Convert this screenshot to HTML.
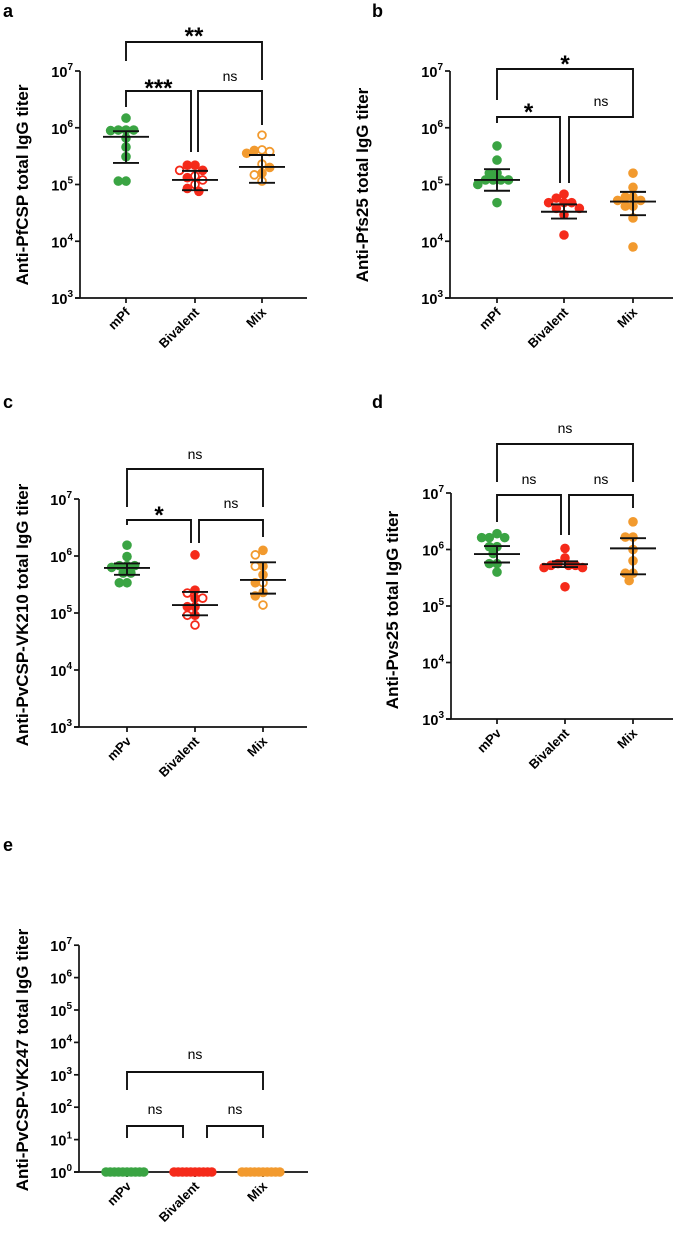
<!DOCTYPE html>
<html><head><meta charset="utf-8">
<style>
html,body{margin:0;padding:0;background:#fff;}
svg{display:block;font-family:"Liberation Sans",Arial,sans-serif;}
.pl{font-weight:bold;font-size:18px;}
.tl{font-weight:bold;font-size:14.5px;}
.yt{font-weight:bold;font-size:17px;}
.xl{font-weight:bold;font-size:13px;}
.sig{font-size:14px;}
.star{font-weight:bold;font-size:24px;}
</style></head>
<body>
<svg id="fig" width="681" height="1249" viewBox="0 0 681 1249"></svg>
<script>
// ---- data (log10 titer) ----
const groupsPf = ["mPf","Bivalent","Mix"];
const groupsPv = ["mPv","Bivalent","Mix"];
const colors = ["#3aa443","#f52a1a","#f29a2e"];

const aGreen = [6.17,5.96,5.96,5.96,5.95,5.82,5.66,5.49,5.06,5.06];
const aRed = [5.34,5.34,5.25,5.25,5.15,5.12,5.08,5.0,4.93,4.88];
const aRedOpen = [0,0,0,1,1,0,1,1,0,0];
const aOrange = [5.87,5.61,5.6,5.58,5.55,5.36,5.2,5.17,5.06,5.3];
const aOrangeOpen = [1,1,0,1,0,1,0,1,1,0];
const aMean = [5.84,5.08,5.31];
const aHi = [5.94,5.24,5.52];
const aLo = [5.38,4.9,5.03];

const bGreen = [5.68,5.43,5.2,5.2,5.08,5.08,5.08,5.08,5.0,4.68];
const bRed = [4.83,4.76,4.68,4.68,4.68,4.58,4.58,4.47,4.11];
const bOrange = [5.2,4.95,4.78,4.78,4.72,4.72,4.62,4.62,4.41,3.9];
const bMean = [5.08,4.52,4.7];
const bHi = [5.27,4.65,4.87];
const bLo = [4.89,4.4,4.46];

const cGreen = [6.19,5.99,5.83,5.83,5.83,5.8,5.7,5.7,5.53,5.53];
const cRed = [6.02,5.4,5.35,5.26,5.26,5.11,5.11,4.96,4.96,4.79];
const cRedOpen = [0,0,1,0,1,0,0,0,1,1];
const cOrange = [6.1,6.02,5.82,5.82,5.67,5.53,5.53,5.36,5.3,5.14];
const cOrangeOpen = [0,1,0,1,0,1,0,0,0,1];
const cMean = [5.79,5.14,5.58];
const cHi = [5.87,5.37,5.89];
const cLo = [5.67,4.96,5.34];

const dGreen = [6.28,6.21,6.21,6.21,6.05,6.05,5.93,5.75,5.75,5.6];
const dRed = [6.02,5.85,5.75,5.72,5.72,5.72,5.68,5.68,5.34];
const dOrange = [6.49,6.22,6.22,6.0,5.8,5.58,5.58,5.45];
const dMean = [5.92,5.74,6.02];
const dHi = [6.06,5.79,6.2];
const dLo = [5.77,5.69,5.56];

const eGreen = [0,0,0,0,0,0,0,0,0,0];
const eRed = [0,0,0,0,0,0,0,0,0,0];
const eOrange = [0,0,0,0,0,0,0,0,0,0];

const NS = "http://www.w3.org/2000/svg";
const svg = document.getElementById("fig");
function mk(tag, attrs, parent, text){
  const e = document.createElementNS(NS, tag);
  for (const k in attrs) e.setAttribute(k, attrs[k]);
  if (text !== undefined) e.textContent = text;
  (parent||svg).appendChild(e);
  return e;
}

function swarm(vals, yfn, r){
  const placed = []; const offs = [];
  vals.forEach(v=>{
    const y = yfn(v); let chosen = 0;
    for (let k=0;k<60;k++){
      const o = (k%2===0?1:-1)*Math.ceil(k/2)*r*0.8;
      if (placed.every(p=>Math.hypot(p[0]-o,p[1]-y) >= r*1.6)){ chosen=o; break; }
    }
    placed.push([chosen,y]); offs.push(chosen);
  });
  const mx = Math.max(...offs.map(Math.abs));
  const lim = 21;
  if (mx > lim) return offs.map(o=>o*lim/mx);
  return offs;
}

function panel(cfg){
  const g = mk("g",{});
  
  
  const yOf = v => cfg.base - (v - cfg.minDec) * cfg.dec;
  const lab = mk("text",{x:cfg.lx,y:cfg.ly,class:"pl"},g,cfg.letter);
  
  
  const ya = mk("line",{x1:cfg.ax,y1:yOf(cfg.maxDec),x2:cfg.ax,y2:cfg.base,stroke:"#111","stroke-width":1.7},g);
  
  
  const xa = mk("line",{x1:cfg.ax-5,y1:cfg.base,x2:cfg.axEnd,y2:cfg.base,stroke:"#111","stroke-width":1.7},g);
  
  
  for (let d=cfg.minDec; d<=cfg.maxDec; d++){
    const y = yOf(d);
    mk("line",{x1:cfg.ax-5,y1:y,x2:cfg.ax,y2:y,stroke:"#111","stroke-width":1.7},g);
    const t = mk("text",{x:cfg.ax-7,y:y+6,"text-anchor":"end",class:"tl"},g);
    
    
    t.appendChild(document.createTextNode("10"));
    mk("tspan",{dy:-7,"font-size":"10px"},t,String(d));
  }
  const yt = mk("text",{x:0,y:0,"text-anchor":"middle",class:"yt",transform:`translate(${cfg.tx},${cfg.ty}) rotate(-90)`},g,cfg.title);
  
  
  cfg.cats.forEach((c,i)=>{
    const x = cfg.cx[i];
    mk("line",{x1:x,y1:cfg.base,x2:x,y2:cfg.base+5,stroke:"#111","stroke-width":1.7},g);
    const t = mk("text",{x:0,y:0,"text-anchor":"end",class:"xl",transform:`translate(${x+5},${cfg.base+15}) rotate(-45)`},g,c);
    
    
  });
  const r = 4.8;
  cfg.series.forEach((vals,i)=>{
    const open = cfg.open[i] || [];
    const offs = swarm(vals, yOf, r);
    vals.forEach((v,j)=>{
      const o = open[j];
      const p = mk("circle",{cx:cfg.cx[i]+offs[j],cy:yOf(v),r:o?r-0.9:r,fill:o?"#fff":colors[i],stroke:colors[i],"stroke-width":o?1.8:0},g);
      
      
    });
    if (cfg.mean){
      const x = cfg.cx[i];
      const m = mk("line",{x1:x-23,y1:yOf(cfg.mean[i]),x2:x+23,y2:yOf(cfg.mean[i]),stroke:"#111","stroke-width":1.9},g);
      
      
      const eb = mk("line",{x1:x,y1:yOf(cfg.hi[i]),x2:x,y2:yOf(cfg.lo[i]),stroke:"#111","stroke-width":1.9},g);
      
      
      mk("line",{x1:x-13,y1:yOf(cfg.hi[i]),x2:x+13,y2:yOf(cfg.hi[i]),stroke:"#111","stroke-width":1.9},g);
      mk("line",{x1:x-13,y1:yOf(cfg.lo[i]),x2:x+13,y2:yOf(cfg.lo[i]),stroke:"#111","stroke-width":1.9},g);
    }
  });
  cfg.br.forEach(b=>{
    const p = mk("path",{d:`M${b[0]},${b[3]} V${b[2]} H${b[1]} V${b[4]}`,fill:"none",stroke:"#111","stroke-width":1.9},g);
    
    
    const star = b[5] !== "ns";
    const t = mk("text",{x:(b[0]+b[1])/2,y:b[6]+(star?6:0),"text-anchor":"middle",class:star?"star":"sig"},g,b[5]);
    
    
  });
}

panel({name:"panel-a",letter:"a",lx:3,ly:17,ax:80,axEnd:307,base:298,dec:56.75,minDec:3,maxDec:7,
  tx:28,ty:185,title:"Anti-PfCSP total IgG titer",cats:groupsPf,cx:[126,195,262],
  series:[aGreen,aRed,aOrange],open:[[],aRedOpen,aOrangeOpen],mean:aMean,hi:aHi,lo:aLo,
  br:[[126,262,42,61,80,"**",38],[126,191,91,107,152,"***",90],[198,262,91,152,125,"ns",81]]});
panel({name:"panel-b",letter:"b",lx:372,ly:17,ax:450,axEnd:673,base:298,dec:56.75,minDec:3,maxDec:7,
  tx:368,ty:185,title:"Anti-Pfs25 total IgG titer",cats:groupsPf,cx:[497,564,633],
  series:[bGreen,bRed,bOrange],open:[[],[],[]],mean:bMean,hi:bHi,lo:bLo,
  br:[[497,633,69,100,107,"*",66],[497,560,117,123,183,"*",114],[569,633,117,183,107,"ns",106]]});
panel({name:"panel-c",letter:"c",lx:3,ly:408,ax:79,axEnd:307,base:727,dec:57,minDec:3,maxDec:7,
  tx:28,ty:615,title:"Anti-PvCSP-VK210 total IgG titer",cats:groupsPv,cx:[127,195,263],
  series:[cGreen,cRed,cOrange],open:[[],cRedOpen,cOrangeOpen],mean:cMean,hi:cHi,lo:cLo,
  br:[[127,263,469,507,507,"ns",459],[127,191,520,525,543,"*",517],[199,263,520,543,537,"ns",508]]});
panel({name:"panel-d",letter:"d",lx:372,ly:408,ax:451,axEnd:673,base:719,dec:56.5,minDec:3,maxDec:7,
  tx:398,ty:610,title:"Anti-Pvs25 total IgG titer",cats:groupsPv,cx:[497,565,633],
  series:[dGreen,dRed,dOrange],open:[[],[],[]],mean:dMean,hi:dHi,lo:dLo,
  br:[[497,633,444,482,482,"ns",433],[497,561,495,522,535,"ns",484],[569,633,495,535,508,"ns",484]]});
panel({name:"panel-e",letter:"e",lx:3,ly:851,ax:79,axEnd:308,base:1172,dec:32.4,minDec:0,maxDec:7,
  tx:28,ty:1060,title:"Anti-PvCSP-VK247 total IgG titer",cats:groupsPv,cx:[127,195,263],
  series:[eGreen,eRed,eOrange],open:[[],[],[]],mean:null,
  br:[[127,263,1072,1090,1090,"ns",1059],[127,183,1126,1138,1138,"ns",1114],[207,263,1126,1138,1138,"ns",1114]]});
</script>
</body></html>
